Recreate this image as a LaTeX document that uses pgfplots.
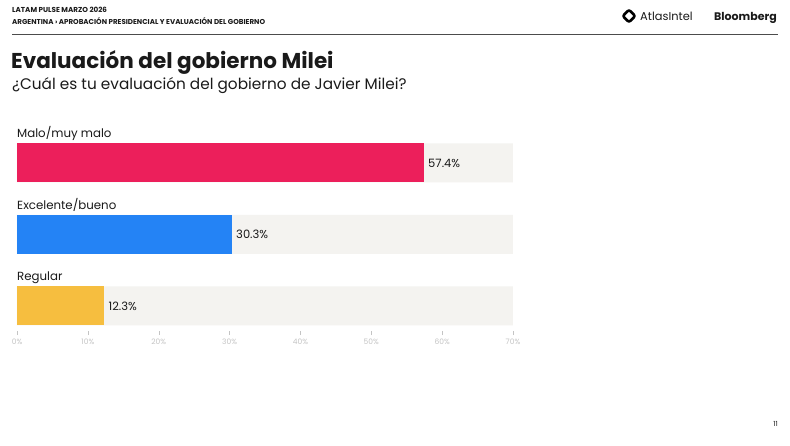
\documentclass[border=0pt]{standalone}
\usepackage{pgfplots}
\pgfplotsset{compat=1.18}
\usepackage{fontspec}
\setmainfont{Poppins}
\definecolor{cred}{HTML}{EC1F5B}
\definecolor{cblue}{HTML}{2483F5}
\definecolor{cyellow}{HTML}{F6BE3F}
\definecolor{cbg}{HTML}{F4F3F0}
\definecolor{ctick}{HTML}{C4C4C4}
\definecolor{ctext}{HTML}{1A1A1A}
\begin{document}
\begin{tikzpicture}[x=1pt,y=1pt]
\useasboundingbox (0,0) rectangle (790,-445);
\fill[white] (0,0) rectangle (790,-445);
% header
\node[anchor=base west, inner sep=0, font=\bfseries\fontsize{7.2}{8}\selectfont, text=ctext] at (12,-12) {LATAM PULSE MARZO 2026};
\node[anchor=base west, inner sep=0, font=\bfseries\fontsize{7.1}{8}\selectfont, text=ctext] at (12,-24) {ARGENTINA › APROBACIÓN PRESIDENCIAL Y EVALUACIÓN DEL GOBIERNO};
\draw[line width=2.6pt, rounded corners=2pt] (629,-9.8) -- (635.2,-16) -- (629,-22.2) -- (622.8,-16) -- cycle;
\node[anchor=base west, inner sep=0, font=\fontsize{11.4}{12}\selectfont, text=ctext] at (640,-20) {AtlasIntel};
\node[anchor=base west, inner sep=0, font=\bfseries\fontsize{11}{12}\selectfont, text=ctext] at (714,-20) {Bloomberg};
\draw[color=black!70, line width=0.8pt] (12,-34.5) -- (778,-34.5);
% titles
\node[anchor=base west, inner sep=0, font=\bfseries\fontsize{21.5}{24}\selectfont, text=ctext] at (11,-68.8) {Evaluación del gobierno Milei};
\node[anchor=base west, inner sep=0, font=\fontsize{15.3}{18}\selectfont, text=ctext] at (12,-89.5) {¿Cuál es tu evaluación del gobierno de Javier Milei?};
\node[anchor=base east, inner sep=0, font=\fontsize{7}{8}\selectfont, text=ctext] at (778,-426) {11};
\begin{axis}[
  at={(17pt,-331pt)}, anchor=south west,
  scale only axis, width=496pt, height=193.05pt,
  xmin=0, xmax=70, ymin=-0.35, ymax=2.35, y dir=reverse,
  axis line style={draw=none},
  xtick={0,10,...,70},
  xticklabel={\pgfmathprintnumber{\tick}\%},
  xticklabel style={text=ctick, font=\fontsize{7.5}{9}\selectfont},
  /pgf/number format/assume math mode=true,
  x tick style={draw=ctick, line width=0.4pt},
  tick align=outside, major tick length=4pt,
  xtick pos=bottom,
  ytick=\empty,
  clip=false,
  xbar, bar width=39pt, bar shift=0pt,
]
\addplot[fill=cbg, draw=none] coordinates {(70,0) (70,1) (70,2)};
\addplot[fill=cred, draw=none, nodes near coords={57.4\%}, nodes near coords style={anchor=west, font=\fontsize{11.5}{14}\selectfont, text=ctext, xshift=1pt}] coordinates {(57.4,0)};
\addplot[fill=cblue, draw=none, nodes near coords={30.3\%}, nodes near coords style={anchor=west, font=\fontsize{11.5}{14}\selectfont, text=ctext, xshift=1pt}] coordinates {(30.3,1)};
\addplot[fill=cyellow, draw=none, nodes near coords={12.3\%}, nodes near coords style={anchor=west, font=\fontsize{11.5}{14}\selectfont, text=ctext, xshift=1pt}] coordinates {(12.3,2)};
\node[anchor=base west, inner sep=0, font=\fontsize{11.8}{14}\selectfont, text=ctext] at (axis cs:0,0) [yshift=25pt] {Malo/muy malo};
\node[anchor=base west, inner sep=0, font=\fontsize{11.8}{14}\selectfont, text=ctext] at (axis cs:0,1) [yshift=25pt] {Excelente/bueno};
\node[anchor=base west, inner sep=0, font=\fontsize{11.8}{14}\selectfont, text=ctext] at (axis cs:0,2) [yshift=25pt] {Regular};
\end{axis}
\end{tikzpicture}
\end{document}
